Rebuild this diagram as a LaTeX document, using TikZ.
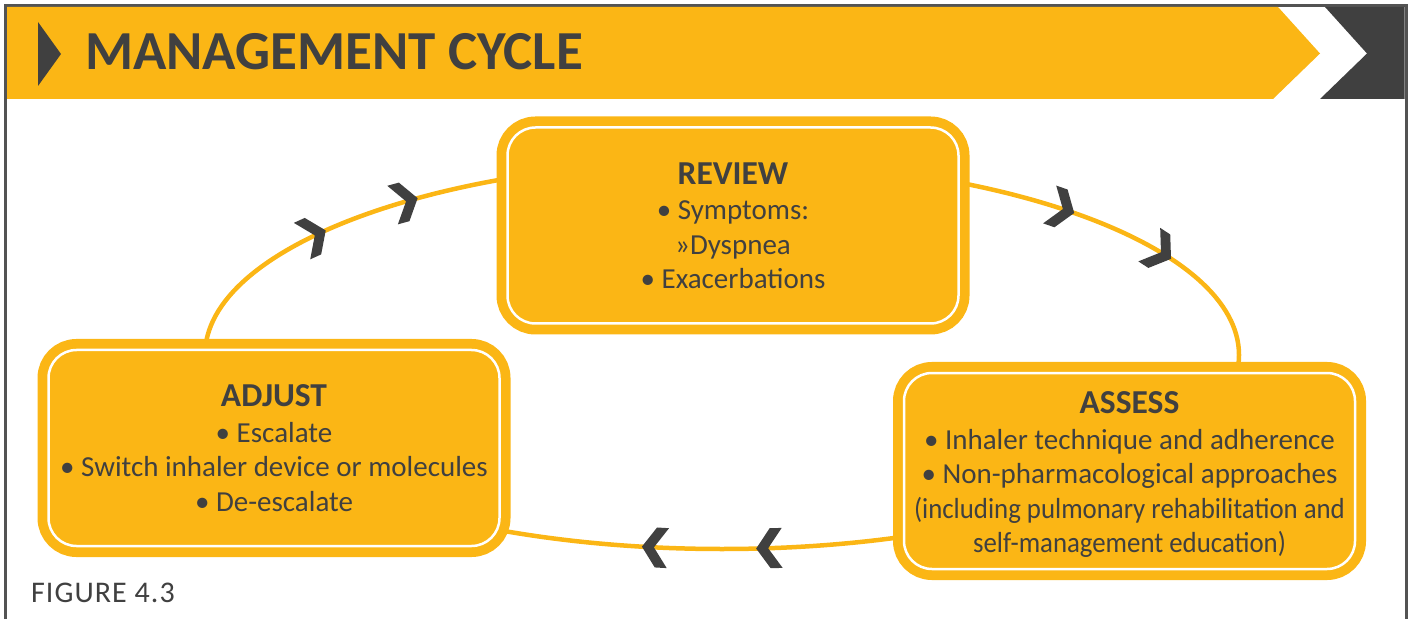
\documentclass[tikz,border=0pt]{standalone}
\usepackage{fontspec}
\usepackage{graphicx}
\setmainfont{Carlito}
\usetikzlibrary{calc}
\definecolor{gold}{HTML}{FBB615}
\definecolor{ink}{HTML}{404040}
\begin{document}
\begin{tikzpicture}[x=1pt,y=1pt,
  stagebox/.style={fill=gold, draw=white, line width=2.5pt, rounded corners=28pt,
    minimum width=451pt, minimum height=196pt, preaction={draw=gold, line width=22pt},
    inner sep=0pt},
  stagetext/.style={text=ink, align=center, font=\fontsize{29}{34.5}\selectfont, inner sep=0pt},
  chev/.style={fill=ink},
  cycleline/.style={draw=gold, line width=4.5pt},
  frameline/.style={draw=ink!90, line width=3pt}]
\useasboundingbox (0,0) rectangle (1410,619);
% frame
\draw[frameline] (5.5,0) -- (5.5,613.5) -- (1406,613.5) -- (1406,0);
% header band
\fill[gold] (7,612) -- (1278,612) -- (1320,565.5) -- (1273,520) -- (7,520) -- cycle;
\fill[ink] (1325,612) -- (1404.5,612) -- (1404.5,520) -- (1320,520) -- (1367,565.5) -- cycle;
\fill[ink] (38,597) -- (61,565) -- (38,533) -- cycle;
\node[anchor=base west, text=ink, font=\fontsize{55}{60}\selectfont\bfseries, inner sep=0pt] (title) at (85,549) {MANAGEMENT CYCLE};
% cycle
\coordinate (cyc) at (722,264);
\draw[cycleline] (cyc) ellipse [x radius=517, y radius=194];
\foreach \t in {140.2,126.2,47.2,29.9,261.2,273.9}{
  \fill[chev, shift={({722+517*cos(\t)},{264+194*sin(\t)})}, rotate={atan2(-194*cos(\t),517*sin(\t))}]
    (1,0) -- (-13,20) -- (-25,20) -- (-11,0) -- (-25,-20) -- (-13,-20) -- cycle;
}
% stages
\node[stagebox] (review) at (733,393.5) {};
\node[stagebox] (assess) at (1129.5,148) {};
\node[stagebox] (adjust) at (274,171) {};
\node[stagetext] (reviewtext) at (review.center) {{\fontsize{33.5}{36}\selectfont\bfseries REVIEW}\\[1pt]
  • Symptoms:\\ »Dyspnea\\ • Exacerbations};
\node[stagetext] (assesstext) at ([yshift=-4]assess.center) {{\fontsize{33.5}{36}\selectfont\bfseries ASSESS}\\[1pt]
  • Inhaler technique and adherence\\ • Non-pharmacological approaches\\
  \scalebox{0.925}[1]{(including pulmonary rehabilitation and}\\ \scalebox{0.925}[1]{self-management education)}};
\node[stagetext] (adjusttext) at (adjust.center) {{\fontsize{33.5}{36}\selectfont\bfseries ADJUST}\\[1pt]
  • Escalate\\ • Switch inhaler device or molecules\\ • De-escalate};
\node[anchor=base west, text=ink, font=\fontsize{30}{32}\selectfont\addfontfeatures{LetterSpace=3.5}, inner sep=0pt] (fig) at (31,17) {FIGURE 4.3};
\end{tikzpicture}
\end{document}
